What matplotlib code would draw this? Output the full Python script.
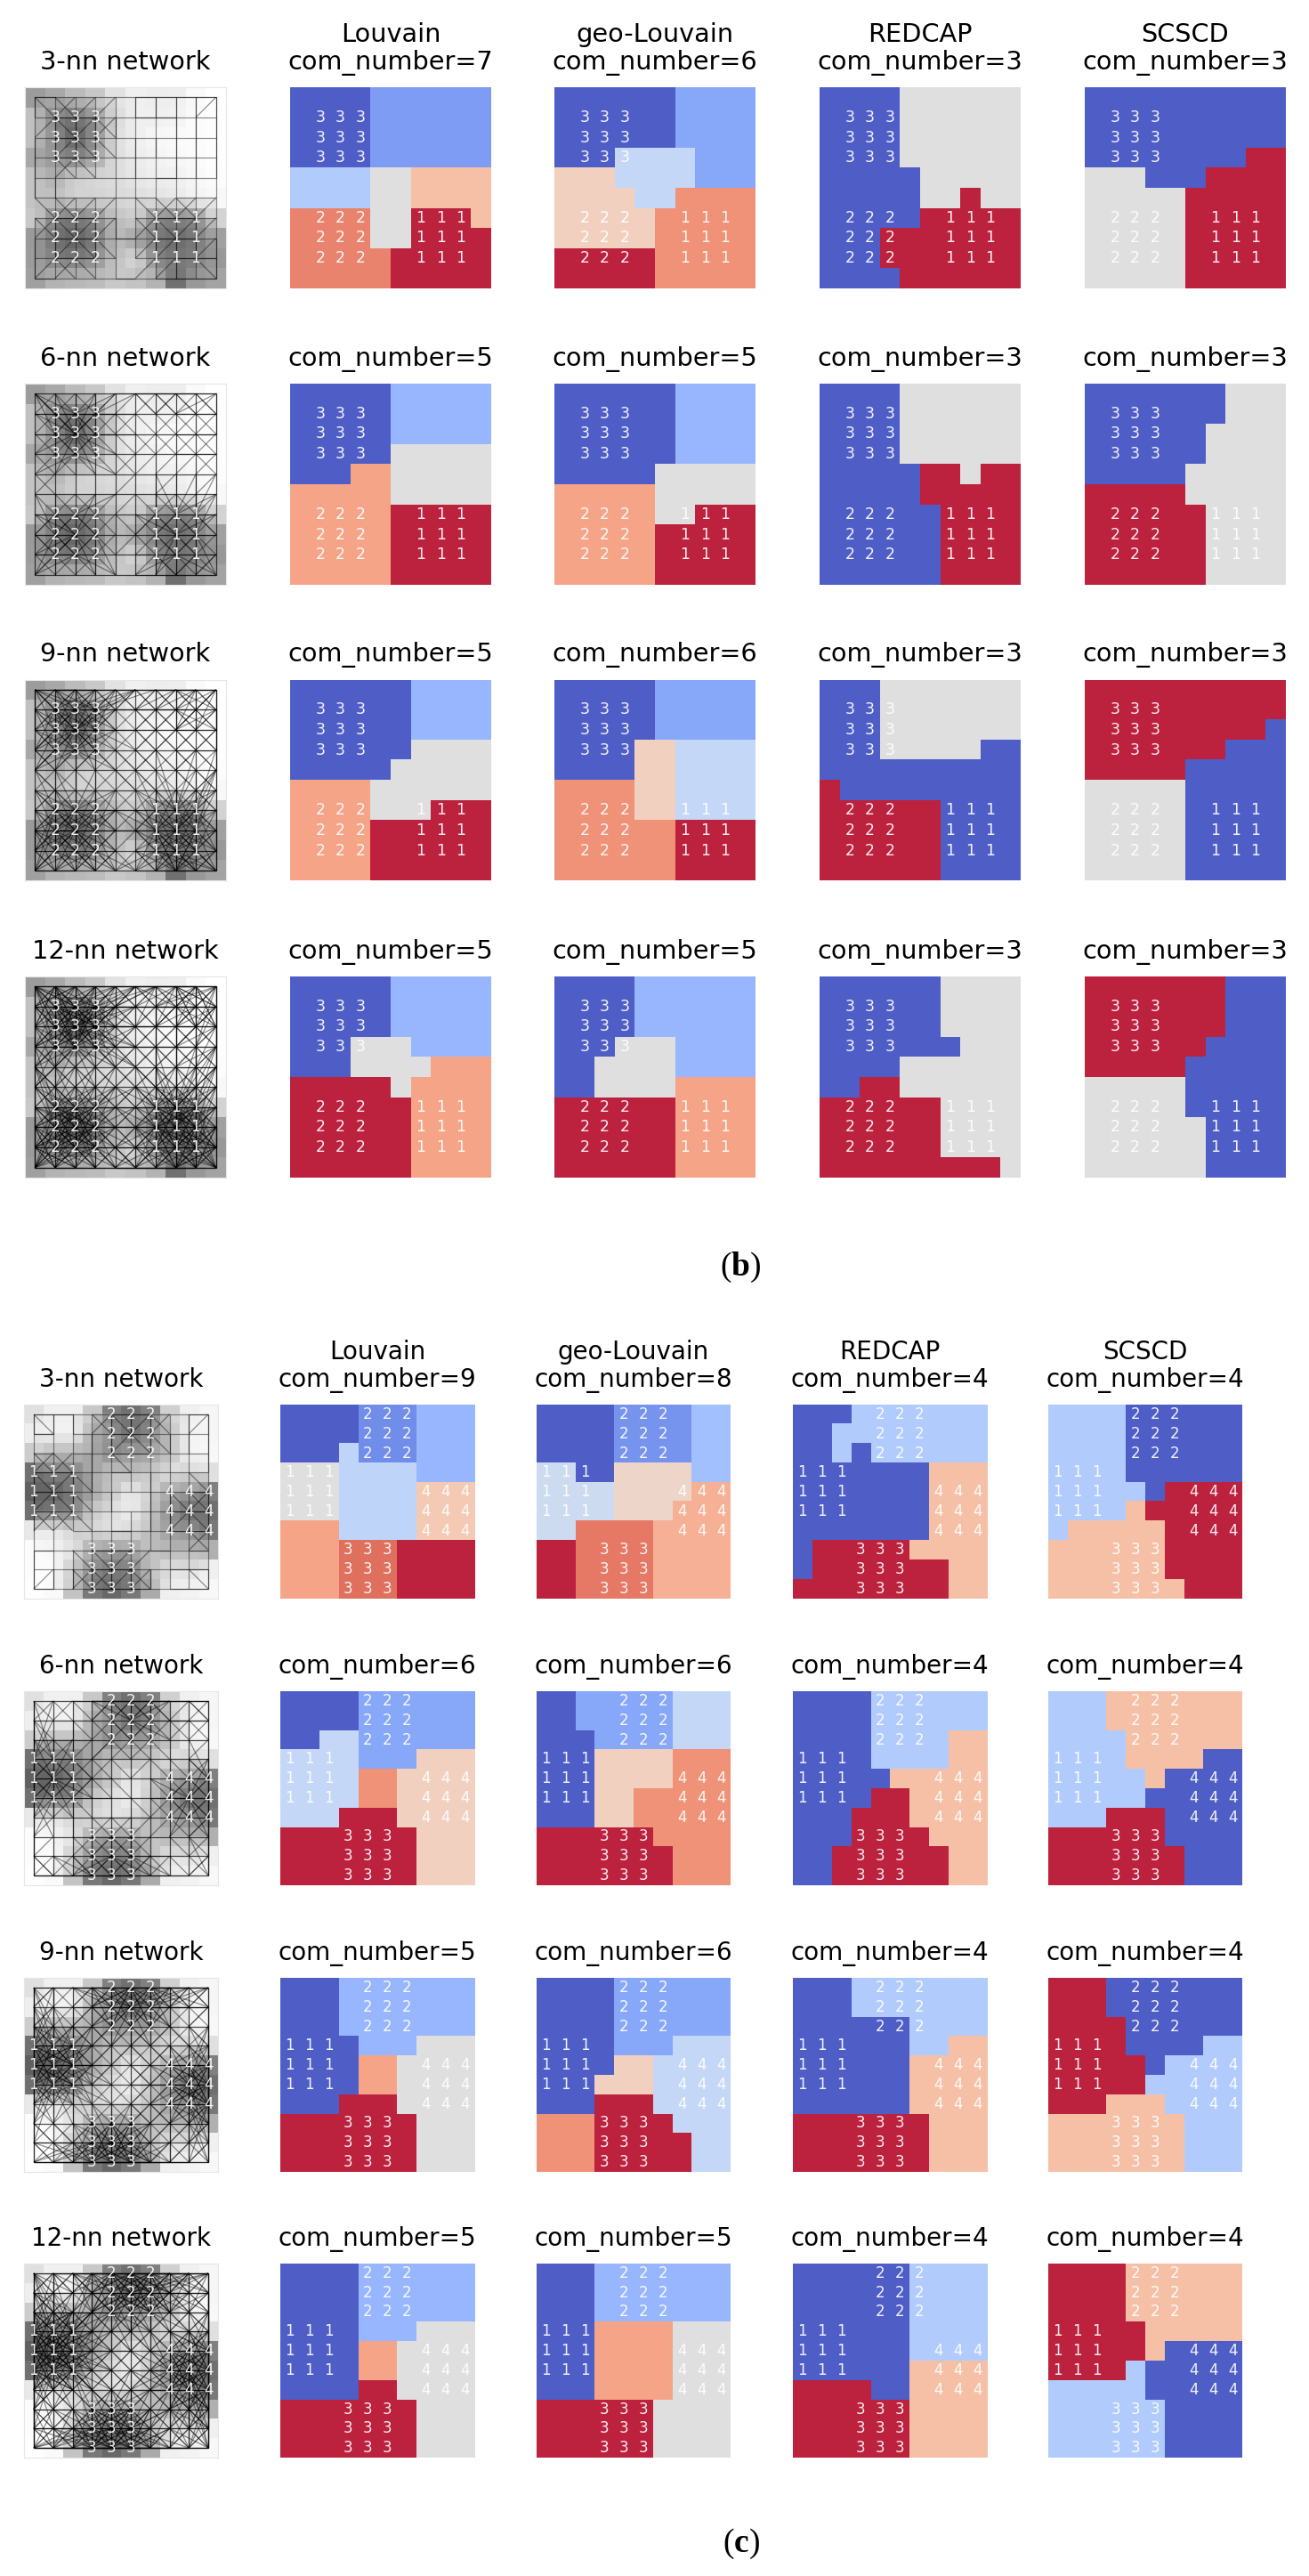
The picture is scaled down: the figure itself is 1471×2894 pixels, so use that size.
import numpy as np
import matplotlib
matplotlib.use("Agg")
import matplotlib.pyplot as plt
from matplotlib.collections import LineCollection

# ---------------- data ----------------
METHODS = ["Louvain", "geo-Louvain", "REDCAP", "SCSCD"]
K_VALUES = [3, 6, 9, 12]
B_COUNTS = [[7, 6, 3, 3], [5, 5, 3, 3], [5, 6, 3, 3], [5, 5, 3, 3]]
C_COUNTS = [[9, 8, 4, 4], [6, 6, 4, 4], [5, 6, 4, 4], [5, 5, 4, 4]]

B_GRAY = [
    [0x9c, 0xa8, 0xbb, 0xc8, 0xe2, 0xf0, 0xed, 0xee, 0xfa, 0xff],
    [0xc0, 0x80, 0x70, 0x90, 0xd8, 0xf0, 0xf0, 0xf2, 0xfc, 0xfe],
    [0xc0, 0x8a, 0x60, 0x8f, 0xdd, 0xf0, 0xf8, 0xfb, 0xfc, 0xfe],
    [0xa8, 0x90, 0x80, 0xa0, 0xdc, 0xec, 0xf4, 0xf8, 0xfb, 0xfe],
    [0xc4, 0xb0, 0xd0, 0xd8, 0xdd, 0xe8, 0xee, 0xf0, 0xf8, 0xfc],
    [0xc4, 0xc0, 0xd4, 0xd4, 0xd8, 0xdd, 0xe4, 0xe8, 0xf4, 0xf8],
    [0xc8, 0x80, 0x78, 0x88, 0xc0, 0xcc, 0x8a, 0x80, 0x8c, 0xd4],
    [0x9a, 0x70, 0x60, 0x78, 0xb8, 0xa4, 0x78, 0x6a, 0x78, 0xa0],
    [0x9c, 0x80, 0x78, 0x8a, 0xc4, 0xd8, 0x8a, 0x75, 0x80, 0x98],
    [0xa0, 0xb4, 0xb8, 0xbc, 0xc8, 0xc4, 0xb4, 0x70, 0x98, 0xa4],
]
C_GRAY = [
    [0xe0, 0xf0, 0xf0, 0xc8, 0x80, 0x70, 0x80, 0xd0, 0xf0, 0xf6],
    [0xee, 0xf4, 0xf4, 0xb0, 0x90, 0x70, 0x8a, 0xc0, 0xf4, 0xf6],
    [0xcc, 0xb8, 0xb8, 0xa8, 0x88, 0x98, 0xa0, 0xc0, 0xf4, 0xf8],
    [0x70, 0x80, 0x80, 0xa8, 0xc4, 0xc0, 0xc8, 0xe0, 0xd8, 0xe0],
    [0x60, 0x60, 0x78, 0xa4, 0xc8, 0xec, 0xd0, 0xa8, 0x98, 0x80],
    [0x70, 0x7a, 0x80, 0xc8, 0xe0, 0xf0, 0xc8, 0x8e, 0x70, 0x70],
    [0xe8, 0xe8, 0xd4, 0xd8, 0xe4, 0xdc, 0xc0, 0x9a, 0x90, 0x78],
    [0xfc, 0xf8, 0xe4, 0xa8, 0x9a, 0xa0, 0xc0, 0xb8, 0xb8, 0xb0],
    [0xfc, 0xfc, 0xc8, 0x8c, 0x78, 0x80, 0xc0, 0xe4, 0xe0, 0xf0],
    [0xfe, 0xfa, 0xc4, 0x78, 0x68, 0x78, 0xaa, 0xf0, 0xf4, 0xf8],
]

B_LABELS = [
    "..........", ".333......", ".333......", ".333......", "..........",
    "..........", ".222..111.", ".222..111.", ".222..111.", "..........",
]
C_LABELS = [
    "....222...", "....222...", "....222...", "111.......", "111....444",
    "111....444", ".......444", "...333....", "...333....", "...333....",
]

# partition of each 10x10 grid: rank of the community in the colour scale
B3_LOUVAIN = ["0000111111"] * 4 + ["2222334444"] * 2 + ["5555336664", "5555336666", "5555566666", "5555566666"]
B3_GEO = ["0000001111"] * 3 + ["0002222111", "3332222111", "3333224444", "3333344444", "3333344444", "5555544444", "5555544444"]
B3_REDCAP = ["0000111111"] * 4 + ["0000011111", "0000011211", "0000022222", "0002222222", "0002222222", "0000222222"]
B3_SCSCD = ["0000000000"] * 3 + ["0000000022", "1110002222"] + ["1111122222"] * 5

B6_LOUVAIN = ["0000011111"] * 3 + ["0000022222", "0003322222", "3333322222"] + ["3333344444"] * 4
B6_GEO = ["0000001111"] * 4 + ["0000022222", "3333322222", "3333322444"] + ["3333344444"] * 3
B6_REDCAP = ["0000111111"] * 4 + ["0000022122", "0000022222"] + ["0000002222"] * 4
B6_SCSCD = ["0000000111"] * 2 + ["0000001111"] * 2 + ["0000011111", "2222211111"] + ["2222221111"] * 4

B9_LOUVAIN = ["0000001111"] * 3 + ["0000002222", "0000022222", "3333222222", "3333222444"] + ["3333444444"] * 3
B9_GEO = ["0000011111"] * 3 + ["0000332222"] * 2 + ["4444332222"] * 2 + ["4444445555"] * 3
B9_REDCAP = ["0001111111"] * 3 + ["0001111100", "0000000000", "2000000000"] + ["2222220000"] * 4
B9_SCSCD = ["2222222222"] * 2 + ["2222222220", "2222222000", "2222200000"] + ["1111100000"] * 5

B12_LOUVAIN = ["0000011111"] * 3 + ["0002221111", "0002222333", "4444423333"] + ["4444443333"] * 4
B12_GEO = ["0000111111"] * 3 + ["0002221111", "0022221111", "0022223333"] + ["4444443333"] * 4
B12_REDCAP = ["0000001111"] * 3 + ["0000000111", "0000111111", "0022111111"] + ["2222221111"] * 3 + ["2222222221"]
B12_SCSCD = ["2222222000"] * 3 + ["2222220000", "2222200000"] + ["1111100000"] * 2 + ["1111110000"] * 3

C3_LOUVAIN = ["0000111222"] * 2 + ["0003111222", "4443333222"] + ["4443333555"] * 2 + ["6663333555"] + ["6667778888"] * 3
C3_GEO = ["0000111122"] * 3 + ["3300444422", "3333444455", "3333444555", "3366665555"] + ["7766665555"] * 3
C3_REDCAP = ["0001111111", "0011111111", "0010111111"] + ["0000000222"] * 4 + ["0333332222", "0333333322", "3333333322"]
C3_SCSCD = ["1111000000"] * 4 + ["1111103333", "1111233333", "1222223333", "2222223333", "2222223333", "2222222333"]

C6_LOUVAIN = ["0000111111"] * 2 + ["0022111111", "2222111333"] + ["2222443333"] * 2 + ["2225553333"] + ["5555555333"] * 3
C6_GEO = ["0011111222"] * 2 + ["0001111222"] + ["0003333444"] * 2 + ["0003344444"] * 2 + ["5555554444"] + ["5555555444"] * 2
C6_REDCAP = ["0000111111"] * 2 + ["0000111122"] * 2 + ["0000022222", "0000332222", "0003332222", "0003333222"] + ["0033333322"] * 2
C6_SCSCD = ["1112222222"] * 2 + ["1111222222", "1111222200", "1111120000", "1111100000", "1113330000", "3333330000"] + ["3333333000"] * 2

C9_LOUVAIN = ["0001111111"] * 3 + ["0000111222"] + ["0000332222"] * 2 + ["0004442222"] + ["4444444222"] * 3
C9_GEO = ["0000111111"] * 3 + ["0000111222", "0000332222", "0003332222", "0005552222", "4445555222"] + ["4445555522"] * 2
C9_REDCAP = ["0001111111"] * 2 + ["0000001111", "0000001122"] + ["0000002222"] * 3 + ["3333333222"] * 3
C9_SCSCD = ["3330000000"] * 2 + ["3333000000", "3333000011", "3333301111", "3333311111", "3332221111"] + ["2222222111"] * 3

C12_LOUVAIN = ["0000111111"] * 3 + ["0000111222"] + ["0000332222"] * 2 + ["0000442222"] + ["4444444222"] * 3
C12_GEO = ["0001111111"] * 3 + ["0003333222"] * 4 + ["4444442222"] * 3
C12_REDCAP = ["0000001111"] * 5 + ["0000002222", "3333002222"] + ["3333332222"] * 3
C12_SCSCD = ["3333222222"] * 3 + ["3333322222", "3333320000", "3333100000", "1111100000"] + ["1111110000"] * 3

# ---------------- layout (pixels of the 1471x2894 figure) ----------------
W, H = 1471, 2894
DPI = 100
B_X = [28, 326, 623, 921, 1219]
B_W = 226
B_Y = [98, 431, 763.5, 1097]
B_H = 226
C_X = [27, 315, 603, 891, 1178]
C_W = 218
C_Y = [1578, 1900, 2222, 2543]
C_H = 218


def edges_for(gray, k):
    """k strongest links of every node: darker and nearer cells attract more."""
    pull = ((255.0 - np.asarray(gray, float)) / 255.0) ** 3 + 0.05
    rows, cols = np.mgrid[0:10, 0:10]
    segs = []
    for r in range(10):
        for c in range(10):
            d = np.hypot(rows - r, cols - c)
            d[r, c] = np.inf
            score = pull / d ** 2.5
            order = np.argsort(-score, axis=None, kind="stable")[:k]
            for idx in order:
                r2, c2 = np.unravel_index(idx, (10, 10))
                segs.append([(c, r), (c2, r2)])
    return segs


def add_digits(ax, labels, size):
    for r, row in enumerate(labels):
        for c, ch in enumerate(row):
            if ch != ".":
                ax.text(c, r, ch, color="white", alpha=0.92, fontsize=size,
                        ha="center", va="center", zorder=5)


def new_axes(fig, x, y, w, h):
    ax = fig.add_axes([x / W, 1 - (y + h) / H, w / W, h / H])
    ax.set_xlim(-0.5, 9.5)
    ax.set_ylim(9.5, -0.5)
    ax.set_xticks([])
    ax.set_yticks([])
    for s in ax.spines.values():
        s.set_visible(False)
    return ax


def network_panel(ax, gray, k, labels, digit_size, title_size):
    gray = np.asarray(gray, float)
    ax.imshow(gray, cmap="gray", vmin=0, vmax=255, aspect="auto",
              interpolation="nearest", extent=(-0.5, 9.5, 9.5, -0.5))
    mid = (gray[:-1, :-1] + gray[1:, :-1] + gray[:-1, 1:] + gray[1:, 1:]) / 4.0
    ax.imshow(mid, cmap="gray", vmin=0, vmax=255, aspect="auto", alpha=0.5,
              interpolation="nearest", extent=(0, 9, 9, 0))
    ax.set_xlim(-0.5, 9.5)
    ax.set_ylim(9.5, -0.5)
    ax.add_collection(LineCollection(edges_for(gray, k), colors="black",
                                     linewidths=0.85, alpha=0.45, zorder=3))
    add_digits(ax, labels, digit_size)
    for s in ax.spines.values():
        s.set_visible(True)
        s.set_color("#e6e6e6")
        s.set_linewidth(0.8)
    ax.set_title(f"{k}-nn network", fontsize=title_size, pad=14.5)


def partition_panel(ax, part, count, labels, digit_size, title, title_size):
    grid = np.array([[int(ch) for ch in row] for row in part], float)
    ax.imshow(grid, cmap="coolwarm", vmin=0, vmax=(count - 1) * 1.004, alpha=0.9,
              aspect="auto", interpolation="nearest",
              extent=(-0.5, 9.5, 9.5, -0.5))
    add_digits(ax, labels, digit_size)
    ax.set_title(title, fontsize=title_size, pad=14.5, linespacing=1.13)


def draw_group(fig, xs, ys, w, h, gray, labels, parts, counts, digit_size, title_size):
    for r, k in enumerate(K_VALUES):
        ax = new_axes(fig, xs[0], ys[r], w, h)
        network_panel(ax, gray, k, labels, digit_size, title_size)
        for m, method in enumerate(METHODS):
            ax = new_axes(fig, xs[m + 1], ys[r], w, h)
            title = f"com_number={counts[r][m]}"
            if r == 0:
                title = f"{method}\n{title}"
            partition_panel(ax, parts[r][m], counts[r][m], labels, digit_size, title, title_size)


plt.rcParams["font.family"] = "DejaVu Sans"
plt.rcParams["mathtext.fontset"] = "custom"
plt.rcParams["mathtext.bf"] = "Liberation Serif:bold"
plt.rcParams["mathtext.rm"] = "Liberation Serif"

fig = plt.figure(figsize=(W / DPI, H / DPI), dpi=DPI, facecolor="white")

B_PARTS = [
    [B3_LOUVAIN, B3_GEO, B3_REDCAP, B3_SCSCD],
    [B6_LOUVAIN, B6_GEO, B6_REDCAP, B6_SCSCD],
    [B9_LOUVAIN, B9_GEO, B9_REDCAP, B9_SCSCD],
    [B12_LOUVAIN, B12_GEO, B12_REDCAP, B12_SCSCD],
]
C_PARTS = [
    [C3_LOUVAIN, C3_GEO, C3_REDCAP, C3_SCSCD],
    [C6_LOUVAIN, C6_GEO, C6_REDCAP, C6_SCSCD],
    [C9_LOUVAIN, C9_GEO, C9_REDCAP, C9_SCSCD],
    [C12_LOUVAIN, C12_GEO, C12_REDCAP, C12_SCSCD],
]

draw_group(fig, B_X, B_Y, B_W, B_H, B_GRAY, B_LABELS, B_PARTS, B_COUNTS, 12.5, 20.7)
draw_group(fig, C_X, C_Y, C_W, C_H, C_GRAY, C_LABELS, C_PARTS, C_COUNTS, 12, 20)

fig.text(832 / W, 1 - 1424 / H, r"($\mathbf{b}$)", fontsize=27, family="Liberation Serif",
         ha="center", va="center")
fig.text(833.5 / W, 1 - 2858 / H, r"($\mathbf{c}$)", fontsize=27, family="Liberation Serif",
         ha="center", va="center")

fig.savefig("out.png", dpi=DPI, facecolor="white")
